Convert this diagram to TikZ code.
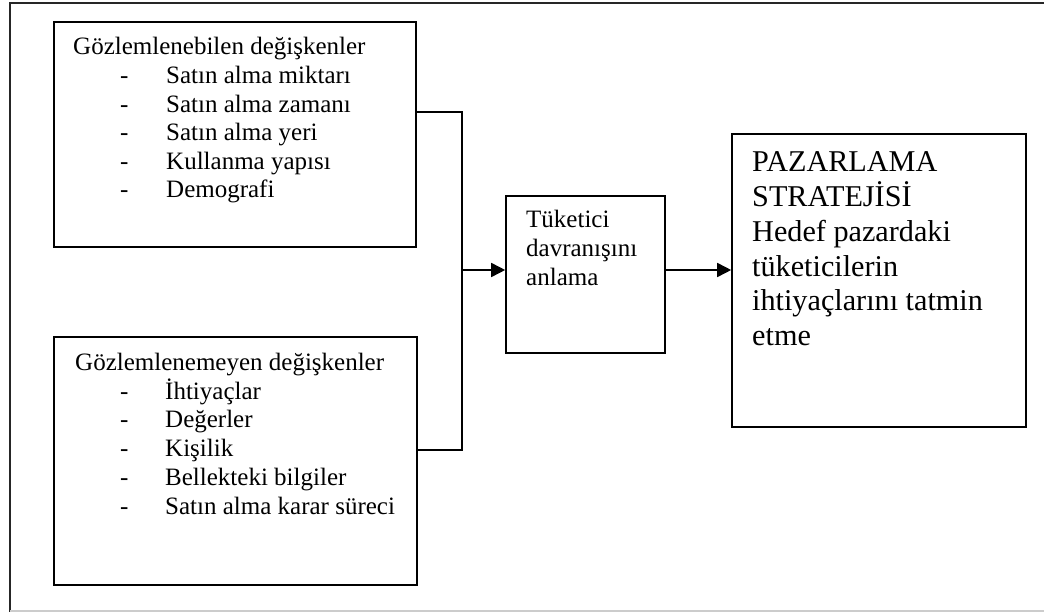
\documentclass[tikz,border=0pt]{standalone}
\usepackage{fontspec}
\setmainfont{Liberation Serif}
\usetikzlibrary{arrows.meta}
\begin{document}
\begin{tikzpicture}[x=1pt,y=-1pt,
  box/.style={draw=black,line width=1.6pt,rectangle,inner sep=0pt},
  txt/.style={anchor=base west,inner sep=0pt,font=\fontsize{25}{29}\selectfont},
  bigtxt/.style={anchor=base west,inner sep=0pt,font=\fontsize{30.2}{35}\selectfont},
  link/.style={line width=1.6pt,draw=black},
  arr/.style={link,-{Triangle[length=14pt,width=14pt]}}]
\useasboundingbox (0,0) rectangle (1044,612);
% page frame
\draw[line width=1.6pt,draw=black!85] (1044,3) -- (10,3) -- (10,612);
\draw[line width=1.2pt,draw=black!20] (10,611) -- (1044,611);

% boxes
\node[box,minimum width=362pt,minimum height=225pt] (obs) at (235,134.5) {};
\node[box,minimum width=363pt,minimum height=248pt] (unobs) at (235.5,461) {};
\node[box,minimum width=159pt,minimum height=157pt] (mid) at (585.5,274.5) {};
\node[box,minimum width=294pt,minimum height=293pt] (strat) at (879,280.5) {};

% observable variables
\node[txt] (obst) at (73,55) {Gözlemlenebilen değişkenler};
\foreach \t [count=\i] in {Satın alma miktarı,Satın alma zamanı,Satın alma yeri,Kullanma yapısı,Demografi}{
  \node[txt] (obsd\i) at (120,84+28.5*\i-28.5) {-};
  \node[txt] (obsi\i) at (166,84+28.5*\i-28.5) {\t};
}

% unobservable variables
\node[txt] (unobst) at (75,370.5) {Gözlemlenemeyen değişkenler};
\foreach \t [count=\i] in {İhtiyaçlar,Değerler,Kişilik,Bellekteki bilgiler,Satın alma karar süreci}{
  \node[txt] (unobsd\i) at (120,399+28.8*\i-28.8) {-};
  \node[txt] (unobsi\i) at (165,399+28.8*\i-28.8) {\t};
}

% understanding consumer behaviour
\foreach \t [count=\i] in {Tüketici,davranışını,anlama}{
  \node[txt] (midt\i) at (526,228+29*\i-29) {\t};
}

% marketing strategy
\foreach \t [count=\i] in {PAZARLAMA,STRATEJİSİ,Hedef pazardaki,tüketicilerin,ihtiyaçlarını tatmin,etme}{
  \node[bigtxt] (stratt\i) at (752,172+34.7*\i-34.7) {\t};
}

% connectors
\coordinate (b1) at (462,112);
\coordinate (b2) at (462,450);
\coordinate (j) at (462,270);
\draw[link] (obs.east |- b1) -- (b1) -- (b2) -- (unobs.east |- b2);
\draw[arr] (j) -- (mid.west |- j);
\draw[arr] (mid.east |- j) -- (strat.west |- j);
\end{tikzpicture}
\end{document}
